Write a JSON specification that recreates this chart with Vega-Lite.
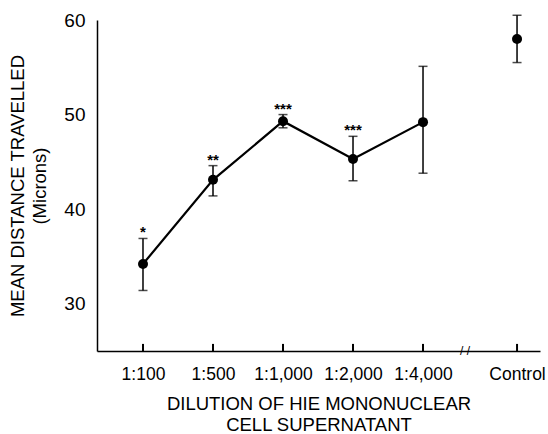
{
  "$schema": "https://vega.github.io/schema/vega-lite/v6.json",
  "autosize": "none",
  "width": 443,
  "height": 331,
  "padding": {"left": 97, "top": 20, "right": 8, "bottom": 83},
  "background": "white",
  "config": {
    "view": {"stroke": null},
    "font": "Liberation Sans",
    "axis": {"grid": false, "ticks": false, "domainColor": "black", "labelColor": "black", "titleColor": "black", "domainWidth": 1.5, "titleFontWeight": "normal", "titleFont": "Liberation Sans", "labelFont": "Liberation Sans"}
  },
  "datasets": {
    "points": [
      {"dilution": "1:100", "idx": 1, "mean": 34.2, "lo": 31.4, "hi": 36.9, "sig": "*"},
      {"dilution": "1:500", "idx": 2, "mean": 43.1, "lo": 41.4, "hi": 44.6, "sig": "**"},
      {"dilution": "1:1,000", "idx": 3, "mean": 49.3, "lo": 48.6, "hi": 50.0, "sig": "***"},
      {"dilution": "1:2,000", "idx": 4, "mean": 45.3, "lo": 43.0, "hi": 47.7, "sig": "***"},
      {"dilution": "1:4,000", "idx": 5, "mean": 49.2, "lo": 43.8, "hi": 55.1, "sig": ""},
      {"dilution": "Control", "idx": 6.343, "mean": 58.0, "lo": 55.5, "hi": 60.5, "sig": ""}
    ],
    "yticks": [{"v": 30}, {"v": 40}, {"v": 50}, {"v": 60}]
  },
  "data": {"name": "points"},
  "encoding": {
    "x": {
      "field": "idx", "type": "quantitative",
      "scale": {"domain": [0.343, 6.671], "nice": false, "zero": false},
      "axis": {
        "values": [1, 2, 3, 4, 5, 6.343],
        "labelExpr": "datum.value == 1 ? '1:100' : datum.value == 2 ? '1:500' : datum.value == 3 ? '1:1,000' : datum.value == 4 ? '1:2,000' : datum.value == 5 ? '1:4,000' : 'Control'",
        "title": ["DILUTION OF HIE MONONUCLEAR", "CELL SUPERNATANT"],
        "titleFontSize": 18.5, "labelFontSize": 17.5, "labelPadding": 14, "titlePadding": 12, "titleLineHeight": 21, "labelFlush": false
      }
    }
  },
  "layer": [
    {
      "transform": [{"filter": "datum.dilution != 'Control'"}],
      "mark": {"type": "line", "color": "black", "strokeWidth": 2.2},
      "encoding": {
        "y": {
          "field": "mean", "type": "quantitative",
          "scale": {"domain": [25, 60], "nice": false, "zero": false},
          "axis": {
            "values": [30, 40, 50, 60],
            "title": ["MEAN DISTANCE TRAVELLED", "(Microns)"],
            "titleFontSize": 18.5, "labelFontSize": 19, "labelPadding": 12, "titlePadding": 14, "titleLineHeight": 22
          }
        }
      }
    },
    {
      "mark": {"type": "rule", "color": "black", "strokeWidth": 2},
      "encoding": {"y": {"datum": 25, "type": "quantitative"}, "y2": {"datum": 25.75}}
    },
    {
      "data": {"name": "yticks"},
      "mark": {"type": "rule", "color": "black", "strokeWidth": 2},
      "encoding": {"x": {"datum": 0.343, "type": "quantitative"}, "x2": {"datum": 0.46}, "y": {"field": "v", "type": "quantitative"}}
    },
    {
      "mark": {"type": "rule", "color": "black", "strokeWidth": 1.5},
      "encoding": {"y": {"field": "lo", "type": "quantitative"}, "y2": {"field": "hi"}}
    },
    {
      "mark": {"type": "tick", "orient": "horizontal", "color": "black", "size": 9, "thickness": 1.5},
      "encoding": {"y": {"field": "lo", "type": "quantitative"}}
    },
    {
      "mark": {"type": "tick", "orient": "horizontal", "color": "black", "size": 9, "thickness": 1.5},
      "encoding": {"y": {"field": "hi", "type": "quantitative"}}
    },
    {
      "mark": {"type": "point", "filled": true, "color": "black", "opacity": 1, "size": 100},
      "encoding": {"y": {"field": "mean", "type": "quantitative"}}
    },
    {
      "mark": {"type": "text", "color": "black", "fontSize": 15, "fontWeight": "bold", "baseline": "middle", "dy": -6},
      "encoding": {"y": {"field": "hi", "type": "quantitative"}, "text": {"field": "sig"}}
    },
    {
      "data": {"values": [{"idx": 5.6, "mean": 25, "mark": "/ /"}]},
      "mark": {"type": "text", "color": "black", "fontSize": 12, "baseline": "middle"},
      "encoding": {"y": {"field": "mean", "type": "quantitative"}, "text": {"field": "mark"}}
    }
  ]
}
